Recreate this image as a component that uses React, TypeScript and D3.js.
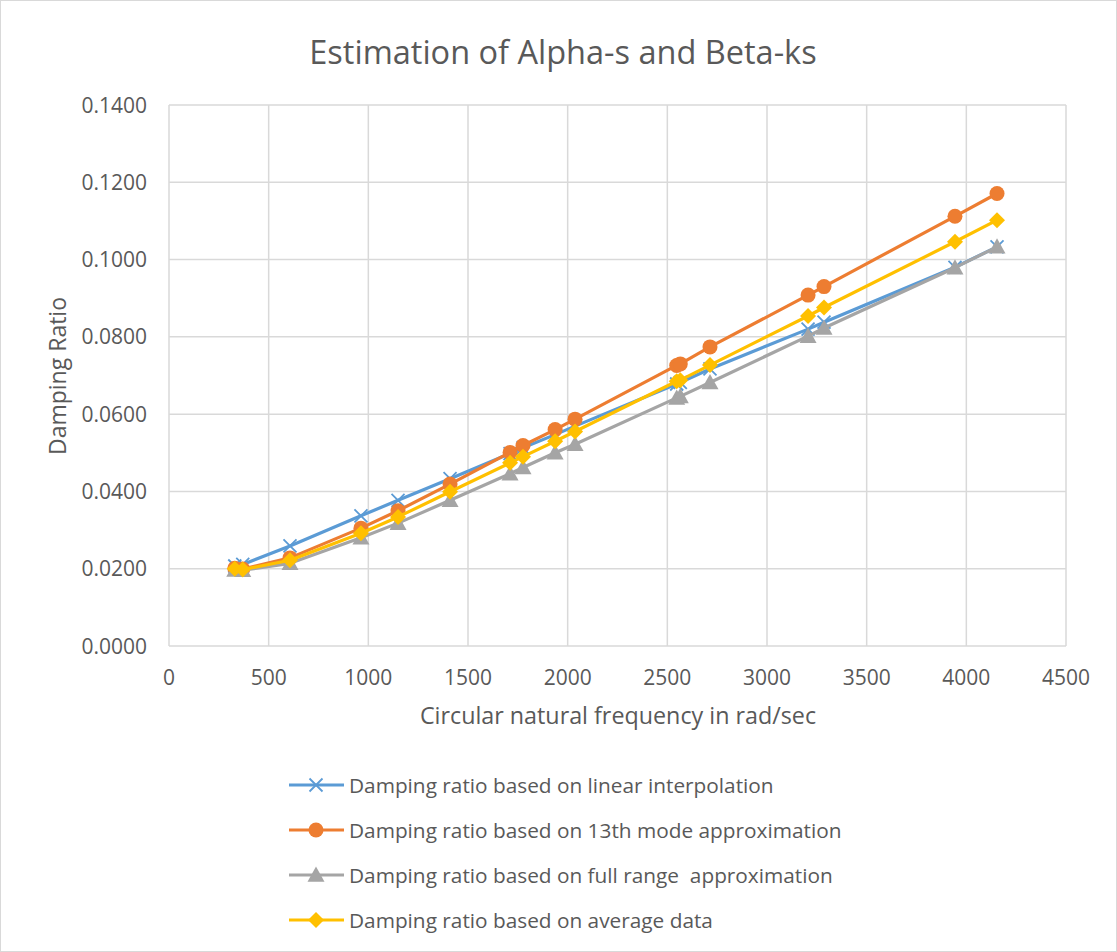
import React from "react";
import * as d3 from "d3";

const freq = [330, 370, 607, 963, 1149, 1410, 1711, 1776, 1937, 2037, 2547, 2565, 2714, 3206, 3286, 3943, 4154];
const linearInterp = [0.0207, 0.0211, 0.0259, 0.0337, 0.0377, 0.0433, 0.0498, 0.0513, 0.0547, 0.0569, 0.0678, 0.0682, 0.0717, 0.0820, 0.0838, 0.0980, 0.1033];
const mode13 = [0.0201, 0.0199, 0.0228, 0.0305, 0.0350, 0.0419, 0.0501, 0.0519, 0.0560, 0.0587, 0.0726, 0.0730, 0.0774, 0.0908, 0.0930, 0.1112, 0.1171];
const fullRange = [0.0197, 0.0196, 0.0214, 0.0280, 0.0318, 0.0377, 0.0446, 0.0462, 0.0500, 0.0522, 0.0642, 0.0646, 0.0682, 0.0802, 0.0823, 0.0979, 0.1033];
const average = [0.0200, 0.0198, 0.0222, 0.0292, 0.0334, 0.0399, 0.0474, 0.0490, 0.0530, 0.0555, 0.0685, 0.0688, 0.0727, 0.0854, 0.0876, 0.1046, 0.1102];

const xTicks = [0, 500, 1000, 1500, 2000, 2500, 3000, 3500, 4000, 4500];
const yTicks = [0, 0.02, 0.04, 0.06, 0.08, 0.1, 0.12, 0.14];

const seriesNames = [
  "Damping ratio based on linear interpolation",
  "Damping ratio based on 13th mode approximation",
  "Damping ratio based on full range  approximation",
  "Damping ratio based on average data",
];
const seriesValues = [linearInterp, mode13, fullRange, average];
const colors = ["#5B9BD5", "#ED7D31", "#A5A5A5", "#FFC000"];
const markers = ["x", "circle", "triangle", "diamond"];

const W = 1117;
const H = 952;
const M = { left: 169, right: 1066, top: 105, bottom: 646 };

const FONT = "'Open Sans', Calibri, sans-serif";
const TXT = "#595959";

function Marker({ type, x, y, color }: { type: string; x: number; y: number; color: string }) {
  if (type === "x") {
    const s = 6.5;
    return (
      <path
        d={`M${x - s},${y - s}L${x + s},${y + s}M${x - s},${y + s}L${x + s},${y - s}`}
        stroke={color}
        strokeWidth={1.8}
        fill="none"
      />
    );
  }
  if (type === "circle") return <circle cx={x} cy={y} r={7.5} fill={color} />;
  if (type === "triangle") {
    const s = 8.5;
    return <path d={`M${x},${y - s}L${x + s},${y + s * 0.8}L${x - s},${y + s * 0.8}Z`} fill={color} />;
  }
  const s = 8;
  return <path d={`M${x},${y - s}L${x + s},${y}L${x},${y + s}L${x - s},${y}Z`} fill={color} />;
}

export default function App() {
  const x = d3.scaleLinear().domain([0, 4500]).range([M.left, M.right]);
  const y = d3.scaleLinear().domain([0, 0.14]).range([M.bottom, M.top]);
  const line = d3
    .line<[number, number]>()
    .x((d) => x(d[0]))
    .y((d) => y(d[1]));

  const legendY = [785, 830, 875, 920];

  return (
    <svg width={W} height={H} style={{ position: "absolute", left: 0, top: 0 }} fontFamily={FONT}>
      <rect x={0.5} y={0.5} width={W - 1} height={H - 1} fill="#fff" stroke="#d9d9d9" />
      <text x={563} y={64} textAnchor="middle" fontSize={32.5} fill={TXT}>
        Estimation of Alpha-s and Beta-ks
      </text>
      {xTicks.map((t) => (
        <line key={"vx" + t} x1={x(t)} x2={x(t)} y1={M.top} y2={M.bottom} stroke="#d9d9d9" strokeWidth={1.5} />
      ))}
      {yTicks.map((t) => (
        <line key={"hy" + t} x1={M.left} x2={M.right} y1={y(t)} y2={y(t)} stroke="#d9d9d9" strokeWidth={1.5} />
      ))}
      {yTicks.map((t) => (
        <text key={"yl" + t} x={147} y={y(t) + 7.5} textAnchor="end" fontSize={21} fill={TXT}>
          {t.toFixed(4)}
        </text>
      ))}
      {xTicks.map((t) => (
        <text key={"xl" + t} x={x(t)} y={685} textAnchor="middle" fontSize={21} fill={TXT}>
          {t}
        </text>
      ))}
      <text x={618} y={724} textAnchor="middle" fontSize={23.3} fill={TXT}>
        Circular natural frequency in rad/sec
      </text>
      <text
        transform={`translate(66,376) rotate(-90)`}
        textAnchor="middle"
        fontSize={23}
        fill={TXT}
      >
        Damping Ratio
      </text>
      {seriesValues.map((vals, i) => {
        const pts = freq.map((f, j) => [f, vals[j]] as [number, number]);
        return (
          <g key={"s" + i}>
            <path d={line(pts) || ""} fill="none" stroke={colors[i]} strokeWidth={3.2} strokeLinejoin="round" />
            {pts.map((p, j) => (
              <Marker key={j} type={markers[i]} x={x(p[0])} y={y(p[1])} color={colors[i]} />
            ))}
          </g>
        );
      })}
      {seriesNames.map((name, i) => (
        <g key={"lg" + i}>
          <line x1={289} x2={344} y1={legendY[i]} y2={legendY[i]} stroke={colors[i]} strokeWidth={3.2} />
          <Marker type={markers[i]} x={316} y={legendY[i]} color={colors[i]} />
          <text x={349} y={legendY[i] + 7.5} fontSize={20.8} fill={TXT} style={{ whiteSpace: "pre" }}>
            {name}
          </text>
        </g>
      ))}
    </svg>
  );
}
